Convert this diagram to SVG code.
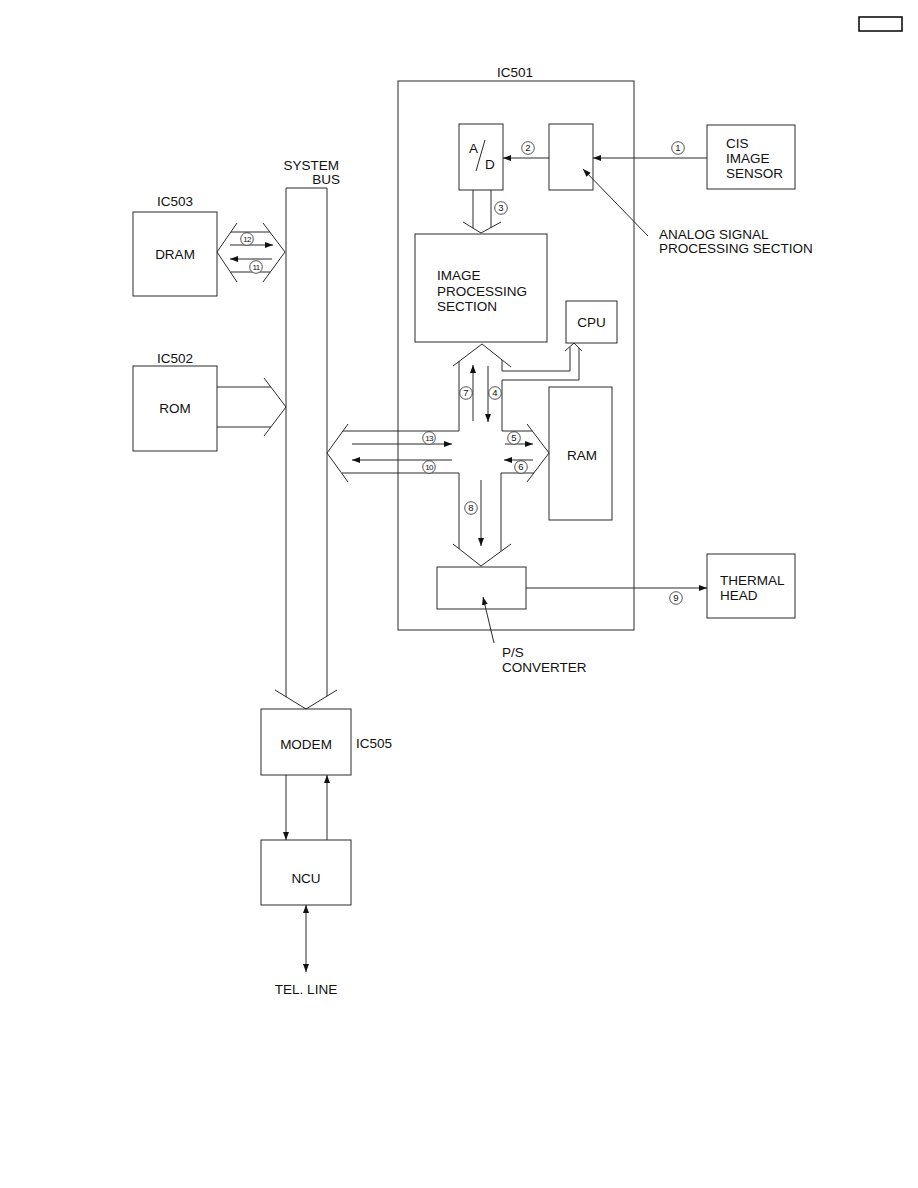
<svg xmlns="http://www.w3.org/2000/svg" width="918" height="1188" viewBox="0 0 918 1188">
<style>
.b{fill:none;stroke:#2a2a2a;stroke-width:1}
.l{fill:none;stroke:#2a2a2a;stroke-width:1}
.t{font-family:"Liberation Sans",Arial,sans-serif;font-size:13.5px;fill:#111}
.c{fill:#fff;stroke:#2a2a2a;stroke-width:0.8}
.n{font-family:"Liberation Sans",Arial,sans-serif;font-size:9.5px;fill:#111;text-anchor:middle}
.n2{font-family:"Liberation Sans",Arial,sans-serif;font-size:8px;fill:#111;text-anchor:middle;letter-spacing:-0.6px}
</style>
<defs>
<marker id="ah" viewBox="0 0 8 6" refX="8" refY="3" markerWidth="8" markerHeight="6" markerUnits="userSpaceOnUse" orient="auto-start-reverse">
<path d="M0,0 L8,3 L0,6 z" fill="#111"/>
</marker>
</defs>
<rect width="918" height="1188" fill="#fff"/>
<rect x="859" y="17" width="43" height="14" fill="none" stroke="#111" stroke-width="1.6"/>

<g id="ic501">
<rect class="b" x="398" y="81" width="236" height="549"/>
<text class="t" x="497" y="77">IC501</text>
</g>
<g id="ad">
<rect class="b" x="459" y="124" width="44" height="66"/>
<text class="t" x="469" y="153">A</text>
<line class="l" x1="485" y1="140" x2="476" y2="171"/>
<text class="t" x="485" y="169">D</text>
</g>
<g id="analog">
<rect class="b" x="549" y="124" width="44" height="66"/>
<text class="t" x="659" y="239">ANALOG SIGNAL</text>
<text class="t" x="659" y="253">PROCESSING SECTION</text>
</g>
<g id="cis">
<rect class="b" x="707" y="125" width="88" height="64"/>
<text class="t" x="726" y="148">CIS</text>
<text class="t" x="726" y="163">IMAGE</text>
<text class="t" x="726" y="178">SENSOR</text>
</g>
<g id="imgproc">
<rect class="b" x="415" y="234" width="132" height="108"/>
<text class="t" x="437" y="280">IMAGE</text>
<text class="t" x="437" y="296">PROCESSING</text>
<text class="t" x="437" y="311">SECTION</text>
</g>
<g id="cpu">
<rect class="b" x="566" y="301" width="51" height="42"/>
<text class="t" x="591.5" y="327" text-anchor="middle">CPU</text>
</g>
<g id="ram">
<rect class="b" x="549" y="387" width="63" height="133"/>
<text class="t" x="582" y="460" text-anchor="middle">RAM</text>
</g>
<g id="ps">
<rect class="b" x="437" y="567" width="89" height="42"/>
<text class="t" x="502" y="657">P/S</text>
<text class="t" x="502" y="672">CONVERTER</text>
</g>
<g id="thermal">
<rect class="b" x="707" y="554" width="88" height="64"/>
<text class="t" x="720" y="585">THERMAL</text>
<text class="t" x="720" y="600">HEAD</text>
</g>
<g id="dram">
<rect class="b" x="133" y="212" width="84" height="84"/>
<text class="t" x="157" y="206">IC503</text>
<text class="t" x="175" y="259" text-anchor="middle">DRAM</text>
</g>
<g id="rom">
<rect class="b" x="133" y="366" width="84" height="85"/>
<text class="t" x="157" y="363">IC502</text>
<text class="t" x="175" y="413" text-anchor="middle">ROM</text>
</g>
<g id="sysbus">
<text class="t" x="339" y="170" text-anchor="end">SYSTEM</text>
<text class="t" x="340" y="184" text-anchor="end">BUS</text>
<polyline class="l" points="286,697 286,188 327,188 327,696"/>
<polyline class="l" points="275,690 306,709 337,690"/>
</g>
<g id="modem">
<rect class="b" x="261" y="709" width="90" height="66"/>
<text class="t" x="306" y="749" text-anchor="middle">MODEM</text>
<text class="t" x="356" y="748">IC505</text>
</g>
<g id="ncu">
<rect class="b" x="261" y="840" width="90" height="65"/>
<text class="t" x="306" y="883" text-anchor="middle">NCU</text>
</g>
<g id="telline">
<text class="t" x="306" y="994" text-anchor="middle">TEL. LINE</text>
</g>

<g id="connectors">
<line class="l" x1="707" y1="158" x2="593" y2="158" marker-end="url(#ah)"/>
<line class="l" x1="549" y1="158" x2="503" y2="158" marker-end="url(#ah)"/>
<line class="l" x1="648" y1="236" x2="583" y2="169" marker-end="url(#ah)"/>
<line class="l" x1="526" y1="588" x2="707" y2="588" marker-end="url(#ah)"/>
<line class="l" x1="494" y1="643" x2="483" y2="597" marker-end="url(#ah)"/>
<polyline class="l" points="473,190 473,228"/>
<polyline class="l" points="491,190 491,228"/>
<polyline class="l" points="463,222 481,233 501,222"/>
<polyline class="l" points="237,223 217,252 237,282"/>
<polyline class="l" points="263,223 285,252 263,282"/>
<line class="l" x1="231" y1="232" x2="270" y2="232"/>
<line class="l" x1="231" y1="272" x2="270" y2="272"/>
<line class="l" x1="230" y1="245" x2="273" y2="245" marker-end="url(#ah)"/>
<line class="l" x1="272" y1="259" x2="230" y2="259" marker-end="url(#ah)"/>
<line class="l" x1="217" y1="387" x2="271" y2="387"/>
<line class="l" x1="217" y1="427" x2="271" y2="427"/>
<polyline class="l" points="264,378 286,407 264,436"/>
<polyline class="l" points="453,366 482,344 511,367"/>
<polyline class="l" points="459,361 459,431 343,431"/>
<polyline class="l" points="348,424 327,453 348,482"/>
<polyline class="l" points="342,473 459,473 459,549"/>
<polyline class="l" points="453,544 481,566 511,544"/>
<polyline class="l" points="501,551 501,473 534,473"/>
<polyline class="l" points="527,424 549,453 527,482"/>
<polyline class="l" points="532,431 502,431 502,380 579,380 579,348"/>
<polyline class="l" points="502,360 502,371 570,371 570,347"/>
<polyline class="l" points="565,351 574,343 582,351"/>
<line class="l" x1="473" y1="421" x2="473" y2="365" marker-end="url(#ah)"/>
<line class="l" x1="488" y1="366" x2="488" y2="422" marker-end="url(#ah)"/>
<line class="l" x1="352" y1="444" x2="452" y2="444" marker-end="url(#ah)"/>
<line class="l" x1="452" y1="460" x2="352" y2="460" marker-end="url(#ah)"/>
<line class="l" x1="505" y1="444" x2="533" y2="444" marker-end="url(#ah)"/>
<line class="l" x1="533" y1="460" x2="504" y2="460" marker-end="url(#ah)"/>
<line class="l" x1="481" y1="480" x2="481" y2="546" marker-end="url(#ah)"/>
<line class="l" x1="286" y1="775" x2="286" y2="840" marker-end="url(#ah)"/>
<line class="l" x1="327" y1="840" x2="327" y2="775" marker-end="url(#ah)"/>
<line class="l" x1="306" y1="905" x2="306" y2="972" marker-start="url(#ah)" marker-end="url(#ah)"/>
</g>

<g id="labels">
<circle class="c" cx="678" cy="148" r="6.3"/><text class="n" x="678" y="151.4">1</text>
<circle class="c" cx="528" cy="148" r="6.3"/><text class="n" x="528" y="151.4">2</text>
<circle class="c" cx="501" cy="208" r="6.3"/><text class="n" x="501" y="211.4">3</text>
<circle class="c" cx="495" cy="393" r="6.3"/><text class="n" x="495" y="396.4">4</text>
<circle class="c" cx="514" cy="438" r="6.3"/><text class="n" x="514" y="441.4">5</text>
<circle class="c" cx="521" cy="467" r="6.3"/><text class="n" x="521" y="470.4">6</text>
<circle class="c" cx="466" cy="393" r="6.3"/><text class="n" x="466" y="396.4">7</text>
<circle class="c" cx="471" cy="508" r="6.3"/><text class="n" x="471" y="511.4">8</text>
<circle class="c" cx="676" cy="598" r="6.3"/><text class="n" x="676" y="601.4">9</text>
<circle class="c" cx="429" cy="467" r="6.3"/><text class="n2" x="429" y="469.9">10</text>
<circle class="c" cx="256" cy="267" r="6.3"/><text class="n2" x="256" y="269.9">11</text>
<circle class="c" cx="247" cy="239" r="6.3"/><text class="n2" x="247" y="241.9">12</text>
<circle class="c" cx="429" cy="438" r="6.3"/><text class="n2" x="429" y="440.9">13</text>
</g>
</svg>
